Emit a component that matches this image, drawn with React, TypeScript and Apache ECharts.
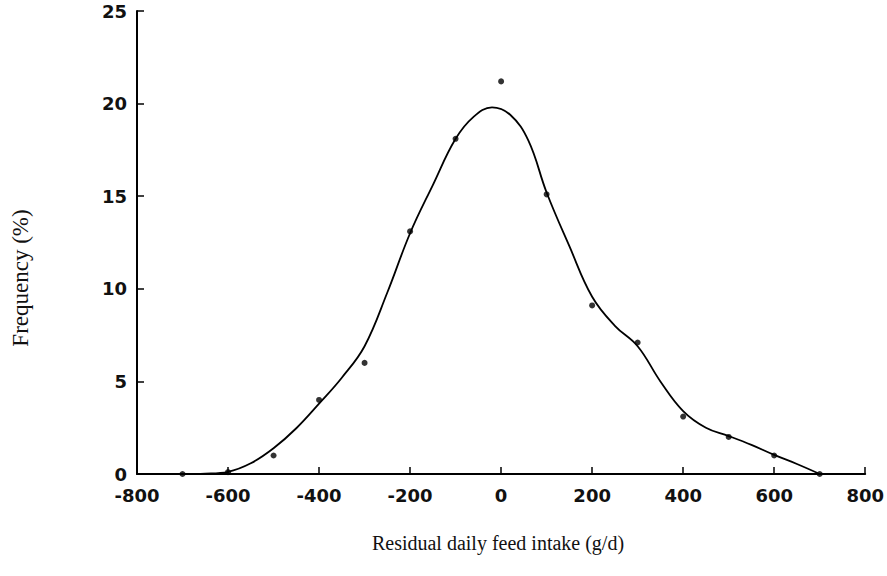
import React, { useEffect, useRef } from "react";
import * as echarts from "echarts";

// Observed frequencies (dots)
const observedX = [-700, -600, -500, -400, -300, -200, -100, 0, 100, 200, 300, 400, 500, 600, 700];
const observedFreq = [0, 0.1, 1.0, 4.0, 6.0, 13.1, 18.1, 21.2, 15.1, 9.1, 7.1, 3.1, 2.0, 1.0, 0];

// Fitted smooth curve
const curveX = [-700, -650, -600, -550, -500, -450, -400, -350, -300, -250, -200, -150, -100, -60, -20, 20, 60, 100, 150, 200, 250, 300, 350, 400, 450, 500, 550, 600, 650, 700];
const curveFreq = [0, 0.02, 0.12, 0.58, 1.39, 2.47, 3.8, 5.2, 6.9, 9.8, 13.0, 15.6, 18.1, 19.3, 19.8, 19.4, 18.0, 15.2, 12.3, 9.57, 8.0, 6.9, 5.0, 3.4, 2.5, 2.05, 1.57, 1.03, 0.54, 0];

const xTickLabels = ["-800", "-600", "-400", "-200", "0", "200", "400", "600", "800"];
const yTickLabels = ["0", "5", "10", "15", "20", "25"];

const xAxisTitle = "Residual daily feed intake (g/d)";
const yAxisTitle = "Frequency (%)";

export default function App() {
  const ref = useRef<HTMLDivElement>(null);
  useEffect(() => {
    if (!ref.current) return;
    const chart = echarts.init(ref.current, null, { renderer: "svg" });
    const tickFont = {
      fontFamily: "DejaVu Sans",
      fontWeight: "bold" as const,
      fontSize: 18,
      color: "#111",
    };
    chart.setOption({
      animation: false,
      backgroundColor: "#fff",
      grid: { left: 137, right: 21, top: 11, bottom: 102 },
      xAxis: {
        type: "value",
        min: -800,
        max: 800,
        interval: 200,
        splitLine: { show: false },
        axisLine: { show: true, onZero: false, lineStyle: { color: "#000", width: 2 } },
        axisTick: { show: true, inside: true, length: 7, lineStyle: { color: "#000", width: 1.5 } },
        axisLabel: {
          ...tickFont,
          margin: 12,
          formatter: (v: number) => {
            const idx = Math.round((v + 800) / 200);
            return xTickLabels[idx] ?? "";
          },
        },
      },
      yAxis: {
        type: "value",
        min: 0,
        max: 25,
        interval: 5,
        splitLine: { show: false },
        axisLine: { show: true, onZero: false, lineStyle: { color: "#000", width: 2 } },
        axisTick: { show: true, inside: true, length: 7, lineStyle: { color: "#000", width: 1.5 } },
        axisLabel: {
          ...tickFont,
          margin: 10,
          formatter: (v: number) => yTickLabels[Math.round(v / 5)] ?? "",
        },
      },
      graphic: [
        {
          type: "text",
          x: 498,
          y: 543,
          style: {
            text: xAxisTitle,
            font: "20px 'Liberation Serif'",
            fill: "#111",
            align: "center",
            verticalAlign: "middle",
          },
        },
        {
          type: "text",
          x: 20,
          y: 278,
          rotation: Math.PI / 2,
          style: {
            text: yAxisTitle,
            font: "23px 'Liberation Serif'",
            fill: "#111",
            align: "center",
            verticalAlign: "middle",
          },
        },
      ],
      series: [
        {
          type: "line",
          data: curveX.map((x, i) => [x, curveFreq[i]]),
          smooth: 0.4,
          showSymbol: false,
          symbol: "none",
          lineStyle: { color: "#000", width: 1.8 },
          z: 2,
        },
        {
          type: "scatter",
          data: observedX.map((x, i) => [x, observedFreq[i]]),
          symbol: "circle",
          symbolSize: 6,
          itemStyle: { color: "#000" },
          z: 3,
        },
      ],
    });
    return () => chart.dispose();
  }, []);
  return (
    <div
      ref={ref}
      style={{ position: "fixed", left: 0, top: 0, width: 887, height: 576, background: "#fff" }}
    />
  );
}
